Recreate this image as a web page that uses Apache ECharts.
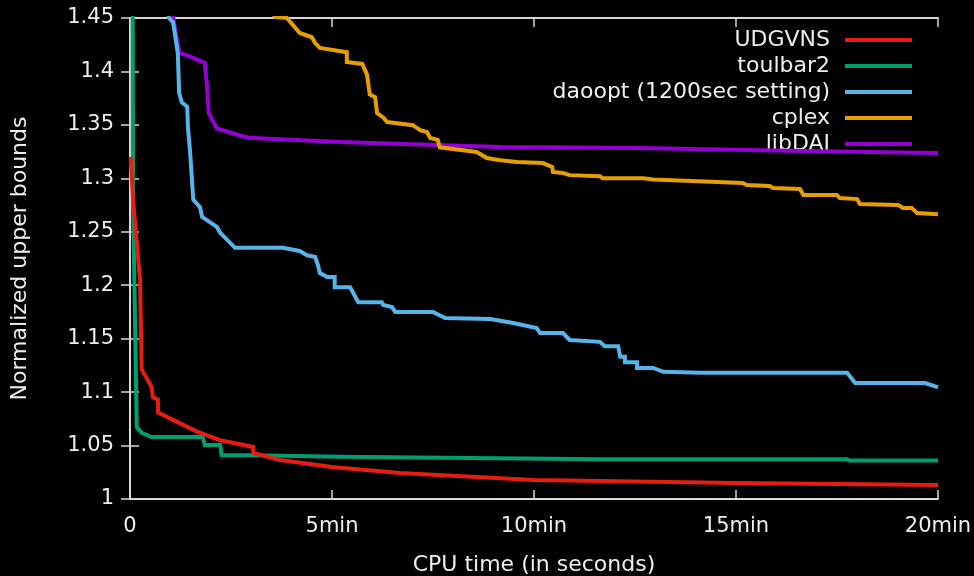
<!DOCTYPE html>
<html>
<head>
<meta charset="utf-8">
<script src="https://cdn.jsdelivr.net/npm/echarts@6/dist/echarts.min.js"></script>
<style>
	html, body { margin: 0; padding: 0; background: #000; }
	#chart { width: 974px; height: 576px; }
</style>
</head>
<body>
<div id="chart"></div>
<script>
// series names
var seriesNames = [ 'UDGVNS', 'toulbar2', 'daoopt (1200sec setting)', 'cplex', 'libDAI' ];
var seriesColors = [ '#e51e10', '#009e73', '#56b4e9', '#e69f00', '#9400d3' ];

// x tick labels (seconds -> text)
var xTickValues = [ 0, 300, 600, 900, 1200 ];
var xTickLabels = [ '0', '5min', '10min', '15min', '20min' ];

// [cpu seconds, normalized upper bound]
var udgvns = [ [ 1, 1.32 ], [ 1.5, 1.314 ], [ 4.5, 1.28 ], [ 14.9, 1.205 ],
		[ 17.4, 1.121 ], [ 32, 1.105 ], [ 34, 1.095 ], [ 41.6, 1.093 ],
		[ 41.6, 1.081 ], [ 64, 1.074 ], [ 99.5, 1.063 ], [ 134, 1.055 ],
		[ 183, 1.0487 ], [ 183, 1.043 ], [ 223, 1.0365 ], [ 300, 1.030 ],
		[ 401, 1.0243 ], [ 600, 1.0178 ], [ 900, 1.015 ], [ 1200, 1.0131 ] ];

var toulbar2 = [ [ 2, 1.6 ], [ 4, 1.45 ], [ 4.5, 1.28 ], [ 10, 1.067 ],
		[ 17.4, 1.062 ], [ 32, 1.058 ], [ 108, 1.058 ], [ 111, 1.0505 ],
		[ 134, 1.0505 ], [ 136, 1.041 ], [ 183, 1.041 ], [ 312, 1.0396 ],
		[ 698, 1.0371 ], [ 1065, 1.0371 ], [ 1068, 1.036 ], [ 1200, 1.036 ] ];

var daoopt = [ [ 50, 1.47 ], [ 58, 1.45 ], [ 64, 1.446 ], [ 71, 1.417 ],
		[ 73, 1.380 ], [ 77, 1.371 ], [ 85, 1.367 ], [ 86, 1.348 ],
		[ 89, 1.3265 ], [ 94, 1.280 ], [ 104, 1.273 ], [ 107, 1.264 ],
		[ 129, 1.2545 ], [ 134, 1.249 ], [ 156, 1.235 ], [ 227, 1.235 ],
		[ 252, 1.232 ], [ 263, 1.228 ], [ 275, 1.2264 ], [ 279, 1.219 ],
		[ 282, 1.2114 ], [ 293, 1.2077 ], [ 304, 1.2077 ], [ 304, 1.198 ],
		[ 327, 1.198 ], [ 339, 1.184 ], [ 374, 1.184 ], [ 376, 1.1815 ],
		[ 389, 1.1796 ], [ 394, 1.175 ], [ 450, 1.175 ], [ 468, 1.1693 ],
		[ 535, 1.1684 ], [ 569, 1.1647 ], [ 604, 1.160 ], [ 609, 1.1553 ],
		[ 643, 1.1553 ], [ 653, 1.1488 ], [ 698, 1.147 ], [ 705, 1.143 ],
		[ 725, 1.143 ], [ 728, 1.133 ], [ 735, 1.133 ], [ 735, 1.128 ],
		[ 753, 1.128 ], [ 753, 1.1226 ], [ 777, 1.1226 ], [ 792, 1.119 ],
		[ 847, 1.118 ], [ 1065, 1.118 ], [ 1077, 1.1085 ], [ 1181, 1.1085 ],
		[ 1200, 1.1045 ] ];

var cplex = [ [ 200, 1.47 ], [ 215, 1.451 ], [ 233, 1.450 ], [ 242, 1.4434 ],
		[ 252, 1.436 ], [ 270, 1.432 ], [ 275, 1.4266 ], [ 282, 1.422 ],
		[ 322, 1.418 ], [ 322, 1.4088 ], [ 345, 1.407 ], [ 352, 1.397 ],
		[ 356, 1.3785 ], [ 364, 1.376 ], [ 367, 1.361 ], [ 376, 1.357 ],
		[ 382, 1.3527 ], [ 420, 1.3497 ], [ 431, 1.345 ], [ 441, 1.3434 ],
		[ 446, 1.3377 ], [ 457, 1.336 ], [ 460, 1.329 ], [ 515, 1.3246 ],
		[ 530, 1.319 ], [ 550, 1.317 ], [ 575, 1.3153 ], [ 613, 1.3143 ],
		[ 627, 1.3106 ], [ 628, 1.306 ], [ 643, 1.305 ], [ 653, 1.303 ],
		[ 698, 1.302 ], [ 702, 1.300 ], [ 762, 1.300 ], [ 777, 1.299 ],
		[ 910, 1.2956 ], [ 916, 1.2937 ], [ 950, 1.2928 ], [ 955, 1.291 ],
		[ 995, 1.290 ], [ 1000, 1.2844 ], [ 1050, 1.2844 ], [ 1054, 1.2816 ],
		[ 1080, 1.2806 ], [ 1084, 1.276 ], [ 1141, 1.275 ], [ 1148, 1.2722 ],
		[ 1161, 1.2722 ], [ 1169, 1.2676 ], [ 1200, 1.2665 ] ];

var libdai = [ [ 60, 1.47 ], [ 64, 1.451 ], [ 69, 1.4325 ], [ 74, 1.417 ],
		[ 85, 1.415 ], [ 111, 1.408 ], [ 114, 1.389 ], [ 117, 1.361 ],
		[ 129, 1.3466 ], [ 175, 1.338 ], [ 312, 1.334 ], [ 550, 1.3293 ],
		[ 757, 1.3284 ], [ 995, 1.3256 ], [ 1200, 1.3237 ] ];

var allData = [ udgvns, toulbar2, daoopt, cplex, libdai ];

var textColor = '#eeeeee';
var axisColor = '#d8d8d8';
var font = 'DejaVu Sans';

function xLabel(v) {
	var i = xTickValues.indexOf(v);
	return i >= 0 ? xTickLabels[i] : '';
}

// one mirrored axis (gnuplot style border with inward ticks)
function borderAxis(extra) {
	var ax = {
		type : 'value',
		axisLine : {
			show : true,
			lineStyle : { color : axisColor, width : 2 }
		},
		axisTick : {
			show : true,
			inside : true,
			length : 9,
			lineStyle : { color : axisColor, width : 1.5 }
		},
		axisLabel : { show : false },
		splitLine : { show : false }
	};
	for (var k in extra) {
		ax[k] = extra[k];
	}
	return ax;
}

function buildSeries() {
	var list = [];
	for (var i = 0; i < seriesNames.length; i++) {
		list.push({
			name : seriesNames[i],
			type : 'line',
			data : allData[i],
			showSymbol : false,
			symbol : 'none',
			clip : true,
			z : 10 - i,
			lineStyle : {
				color : seriesColors[i],
				width : 4,
				join : 'miter'
			},
			itemStyle : {
				color : seriesColors[i]
			}
		});
	}
	return list;
}

var myChart = echarts.init(document.getElementById('chart'));
var option = {
	backgroundColor : '#000000',
	animation : false,
	textStyle : {
		fontFamily : font
	},
	grid : {
		left : 130,
		right : 36,
		top : 18,
		bottom : 77,
		containLabel : false,
		outerBoundsMode : 'none'
	},
	legend : {
		orient : 'vertical',
		right : 57,
		top : 24,
		align : 'right',
		icon : 'rect',
		itemWidth : 67,
		itemHeight : 4,
		itemGap : 4,
		data : seriesNames,
		textStyle : {
			color : textColor,
			fontSize : 22,
			fontFamily : font,
			padding : [ 0, 10, 0, 0 ]
		}
	},
	xAxis : [ borderAxis({
		min : 0,
		max : 1200,
		interval : 300,
		name : 'CPU time (in seconds)',
		nameLocation : 'middle',
		nameGap : 55,
		nameTextStyle : {
			color : textColor,
			fontSize : 22,
			fontFamily : font
		},
		axisLabel : {
			color : textColor,
			fontSize : 21,
			fontFamily : font,
			margin : 17,
			formatter : xLabel
		}
	}), borderAxis({
		position : 'top',
		min : 0,
		max : 1200,
		interval : 300
	}) ],
	yAxis : [ borderAxis({
		min : 1,
		max : 1.45,
		interval : 0.05,
		name : 'Normalized upper bounds',
		nameLocation : 'middle',
		nameGap : 99,
		nameTextStyle : {
			color : textColor,
			fontSize : 22,
			fontFamily : font
		},
		axisLabel : {
			color : textColor,
			fontSize : 21,
			fontFamily : font,
			margin : 16
		}
	}), borderAxis({
		position : 'right',
		min : 1,
		max : 1.45,
		interval : 0.05
	}) ],
	series : buildSeries()
};
myChart.setOption(option);
</script>
</body>
</html>
